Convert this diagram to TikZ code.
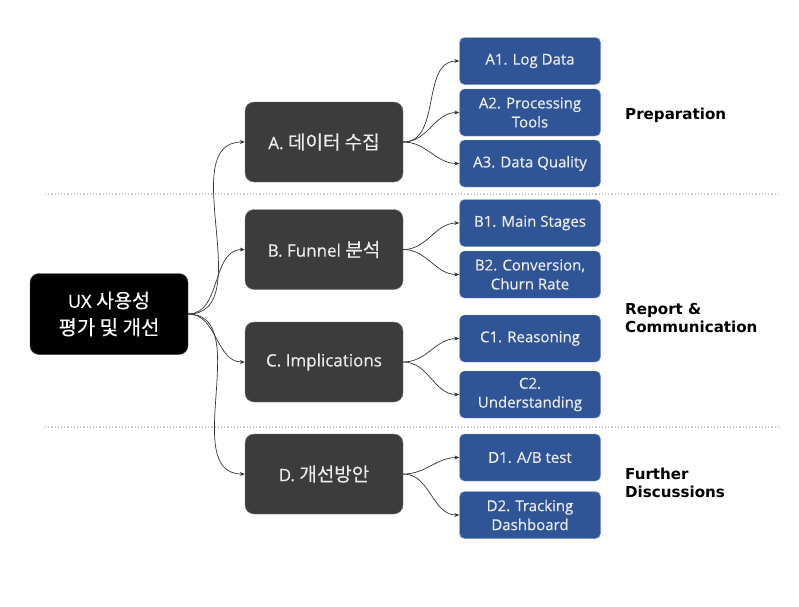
\documentclass[tikz,border=0pt]{standalone}
\usepackage{fontspec}
\setmainfont{Open Sans}[FakeBold=0.5]
\newfontfamily\kr{Noto Sans CJK KR}[FakeBold=0.3]
\newfontfamily\lblfont{DejaVu Sans}
\usetikzlibrary{arrows.meta}
\definecolor{boxblue}{HTML}{2F5597}
\definecolor{boxgray}{HTML}{3C3C3C}
\begin{document}
\begin{tikzpicture}[x=1pt,y=-1pt,
  rootbox/.style={draw=black!70, fill=black, rounded corners=9pt, minimum width=158pt, minimum height=81pt, text=white, font=\fontsize{18}{27}\selectfont, align=center},
  midbox/.style={draw=black!50, fill=boxgray, rounded corners=9pt, minimum width=158pt, minimum height=80pt, text=white!92!black, font=\fontsize{17}{19}\selectfont, align=center},
  leafbox/.style={draw=boxblue!60, fill=boxblue, rounded corners=5pt, minimum width=141pt, minimum height=47pt, text=white!92!black, font=\fontsize{15}{19}\selectfont, align=center, inner sep=1pt},
  conn/.style={draw=black!80, line width=0.7pt, -{Stealth[length=5pt,width=4pt]}, out=0, in=180},
  sep/.style={draw=black!22, line width=1.2pt, dotted},
  lbl/.style={anchor=west, align=left, inner sep=0pt, font=\lblfont\bfseries\fontsize{15.1}{18}\selectfont}
]
\useasboundingbox (0,0) rectangle (799,606);
\draw[sep] (45,194) -- (778,194);
\draw[sep] (45,427) -- (778,427);

\node[rootbox] (root) at (109,314) {UX {\kr\fontsize{19.5}{27}\selectfont 사용성}\\{\kr\fontsize{20}{27}\selectfont 평가 및 개선}};

\node[midbox] (A) at (324,142) {A. {\kr\fontsize{19}{19}\selectfont 데이터 수집}};
\node[midbox] (B) at (324,249.5) {B. Funnel {\kr\fontsize{19}{19}\selectfont 분석}};
\node[midbox] (C) at (324,362) {C. Implications};
\node[midbox] (D) at (324,474) {D. {\kr\fontsize{19}{19}\selectfont 개선방안}};

\node[leafbox] (A1) at (530,61) {A1. Log Data};
\node[leafbox] (A2) at (530,112.5) {A2. Processing\\Tools};
\node[leafbox] (A3) at (530,163.5) {A3. Data Quality};
\node[leafbox] (B1) at (530,223) {B1. Main Stages};
\node[leafbox] (B2) at (530,274.5) {B2. Conversion,\\Churn Rate};
\node[leafbox] (C1) at (530,338.5) {C1. Reasoning};
\node[leafbox] (C2) at (530,394.5) {C2.\\Understanding};
\node[leafbox] (D1) at (530,457.5) {D1. A/B test};
\node[leafbox] (D2) at (530,515) {D2. Tracking\\Dashboard};

\node[lbl] (L1) at (625,115) {Preparation};
\node[lbl] (L2) at (625,318) {Report \&\\Communication};
\node[lbl] (L3) at (625,483) {Further\\Discussions};

\foreach \t in {A,B,C,D} \draw[conn] (root.east) to (\t.west);
\foreach \t in {A1,A2,A3} \draw[conn] (A.east) to (\t.west);
\foreach \t in {B1,B2} \draw[conn] (B.east) to (\t.west);
\foreach \t in {C1,C2} \draw[conn] (C.east) to (\t.west);
\foreach \t in {D1,D2} \draw[conn] (D.east) to (\t.west);
\end{tikzpicture}
\end{document}
